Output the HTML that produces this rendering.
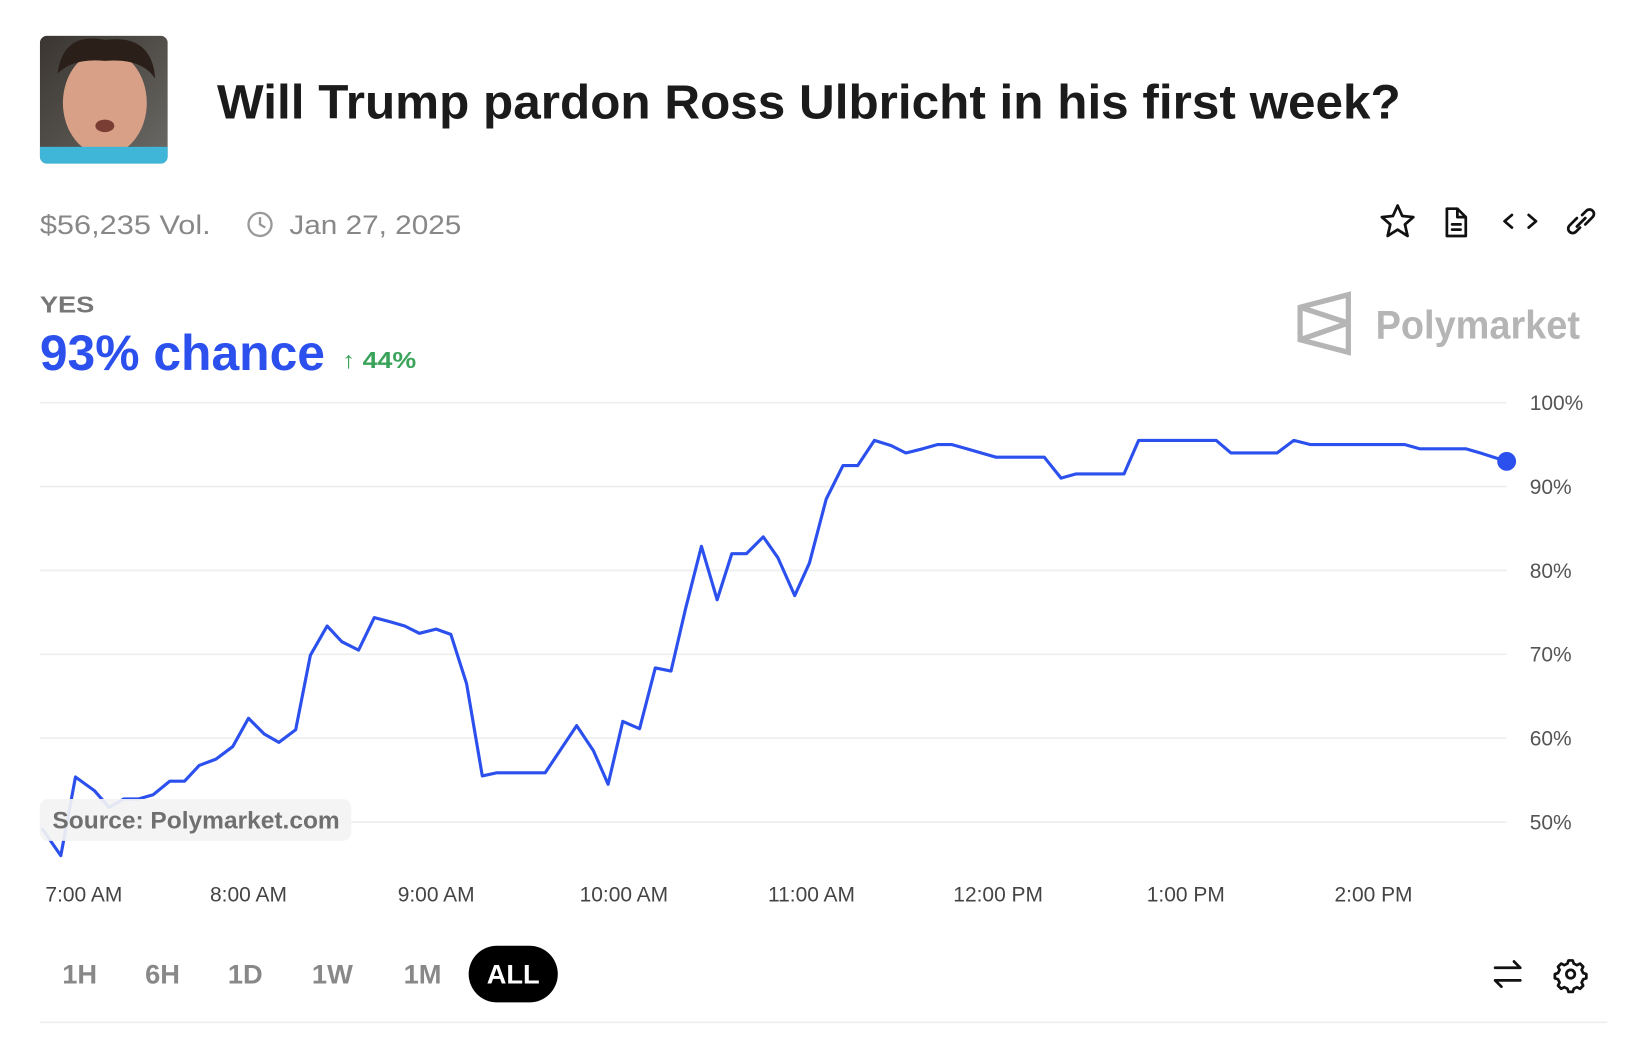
<!DOCTYPE html>
<html><head><meta charset="utf-8"><style>html,body{margin:0;padding:0;background:#fff}svg{display:block}</style></head>
<body>
<svg width="1644" height="1058" viewBox="0 0 1568 1009" xmlns="http://www.w3.org/2000/svg" font-family="Liberation Sans, sans-serif">
<rect width="1568" height="1009" fill="#fff"/>
<defs><clipPath id="ph"><rect x="38" y="34" width="122" height="122" rx="7"/></clipPath>
<linearGradient id="bg" x1="0" y1="0" x2="1" y2="1"><stop offset="0" stop-color="#3a3530"/><stop offset="1" stop-color="#6b6a66"/></linearGradient></defs>
<g clip-path="url(#ph)">
<rect x="38" y="34" width="122" height="122" fill="url(#bg)"/>
<ellipse cx="100" cy="98" rx="40" ry="50" fill="#d9a088"/>
<path d="M55 70 Q60 30 100 38 Q145 32 148 75 Q135 55 100 58 Q70 55 55 70Z" fill="#2b2019"/>
<rect x="38" y="140" width="122" height="20" fill="#3fb6d8"/>
<ellipse cx="100" cy="120" rx="9" ry="6" fill="#7a3d34"/>
</g>
<text x="207" y="113" font-size="46" font-weight="bold" fill="#1b1b1b" textLength="1129" lengthAdjust="spacingAndGlyphs">Will Trump pardon Ross Ulbricht in his first week?</text>
<text x="38" y="223" font-size="26" fill="#888" textLength="163" lengthAdjust="spacingAndGlyphs">$56,235 Vol.</text>
<circle cx="248" cy="214" r="11" fill="none" stroke="#999" stroke-width="2.2"/>
<path d="M248 207v7l5 3" fill="none" stroke="#999" stroke-width="2.2"/>
<text x="276" y="223" font-size="26" fill="#888" textLength="164" lengthAdjust="spacingAndGlyphs">Jan 27, 2025</text>
<g fill="none" stroke="#111" stroke-width="2.6" stroke-linejoin="round" stroke-linecap="round">
<path d="M1333 196l4.5 10 10.5 1-8 7 2.5 11-9.5-6-9.5 6 2.5-11-8-7 10.5-1z"/>
<path d="M1380 199h10l8 8v18h-18z M1390 199v8h8 M1385 214h8 M1385 219h8"/>
<path d="M1442 205l-7 6 7 6 M1458 205l7 6-7 6"/>
<path d="M1504 208l-7 7a4 4 0 0 0 6 6l4-4 M1512 214l7-7a4 4 0 0 0-6-6l-4 4 M1504 216l8-8"/>
</g>
<text x="38" y="298" font-size="22" font-weight="bold" fill="#777" textLength="52" lengthAdjust="spacingAndGlyphs">YES</text>
<text x="38" y="353" font-size="48" font-weight="bold" fill="#2b50ed" textLength="272" lengthAdjust="spacingAndGlyphs">93% chance</text>
<text x="326" y="351" font-size="22" font-weight="bold" fill="#3aa35a" textLength="71" lengthAdjust="spacingAndGlyphs">↑ 44%</text>
<g fill="none" stroke="#b5b5b5" stroke-width="5" stroke-linejoin="miter">
<path d="M1286 281v55l-46-12v-31z M1240 293l46 15 M1240 324l46-16"/>
</g>
<text x="1312" y="323" font-size="38" font-weight="bold" fill="#b5b5b5" textLength="195" lengthAdjust="spacingAndGlyphs">Polymarket</text>
<g stroke="#eeeeee" stroke-width="1.5">
<line x1="38" y1="384" x2="1437" y2="384"/><line x1="38" y1="464" x2="1437" y2="464"/><line x1="38" y1="544" x2="1437" y2="544"/><line x1="38" y1="624" x2="1437" y2="624"/><line x1="38" y1="704" x2="1437" y2="704"/><line x1="38" y1="784" x2="1437" y2="784"/>
</g>
<g font-size="20" fill="#555">
<text x="1459" y="391">100%</text><text x="1459" y="471">90%</text><text x="1459" y="551">80%</text><text x="1459" y="631">70%</text><text x="1459" y="711">60%</text><text x="1459" y="791">50%</text>
</g>
<polyline fill="none" stroke="#2b50ed" stroke-width="3" stroke-linejoin="round" points="40,790 58,816 72,741 90,754 104,770 118,762 132,762 146,758 162,745 176,745 190,730 206,724 222,712 237,685 252,700 266,708 282,696 296,625 312,597 326,612 342,620 357,589 372,593 386,597 400,604 416,600 430,605 445,652 460,740 474,737 490,737 504,737 520,737 534,716 550,692 566,716 580,748 594,688 610,695 625,637 640,640 654,580 669,521 684,572 698,528 712,528 728,512 742,532 758,568 772,537 788,476 804,444 818,444 834,420 850,425 864,432 880,428 894,424 908,424 922,428 936,432 950,436 966,436 980,436 996,436 1012,456 1026,452 1042,452 1072,452 1086,420 1102,420 1160,420 1174,432 1190,432 1218,432 1234,420 1250,424 1340,424 1354,428 1398,428 1412,432 1437,440"/>
<circle cx="1437" cy="440" r="9" fill="#2b50ed"/>
<rect x="38" y="762" width="297" height="40" rx="8" fill="#f3f3f3" fill-opacity="0.92"/>
<text x="50" y="790" font-size="23" font-weight="bold" fill="#707070" textLength="274" lengthAdjust="spacingAndGlyphs">Source: Polymarket.com</text>
<g font-size="20" fill="#444" text-anchor="middle">
<text x="80" y="860">7:00 AM</text><text x="237" y="860">8:00 AM</text><text x="416" y="860">9:00 AM</text><text x="595" y="860">10:00 AM</text><text x="774" y="860">11:00 AM</text><text x="952" y="860">12:00 PM</text><text x="1131" y="860">1:00 PM</text><text x="1310" y="860">2:00 PM</text>
</g>
<g font-size="26" font-weight="bold" fill="#888" text-anchor="middle">
<text x="76" y="938">1H</text><text x="155" y="938">6H</text><text x="234" y="938">1D</text><text x="317" y="938">1W</text><text x="403" y="938">1M</text>
</g>
<rect x="447" y="902" width="85" height="54" rx="27" fill="#000"/>
<text x="489.5" y="938" font-size="26" font-weight="bold" fill="#fff" text-anchor="middle">ALL</text>
<g fill="none" stroke="#111" stroke-width="2.6" stroke-linecap="round" stroke-linejoin="round">
<path d="M1426 923h24l-6-6 M1450 935h-24l6 6"/>
<circle cx="1498" cy="929" r="4"/>
<path d="M1496 916h4l1 3 3 1.5 3-1.5 3 3-1.5 3 1.5 3 3 1v4l-3 1-1.5 3 1.5 3-3 3-3-1.5-3 1.5-1 3h-4l-1-3-3-1.5-3 1.5-3-3 1.5-3-1.5-3-3-1v-4l3-1 1.5-3-1.5-3 3-3 3 1.5 3-1.5z"/>
</g>
<line x1="38" y1="975" x2="1533" y2="975" stroke="#eeeeee" stroke-width="1.5"/>
</svg>
</body></html>
